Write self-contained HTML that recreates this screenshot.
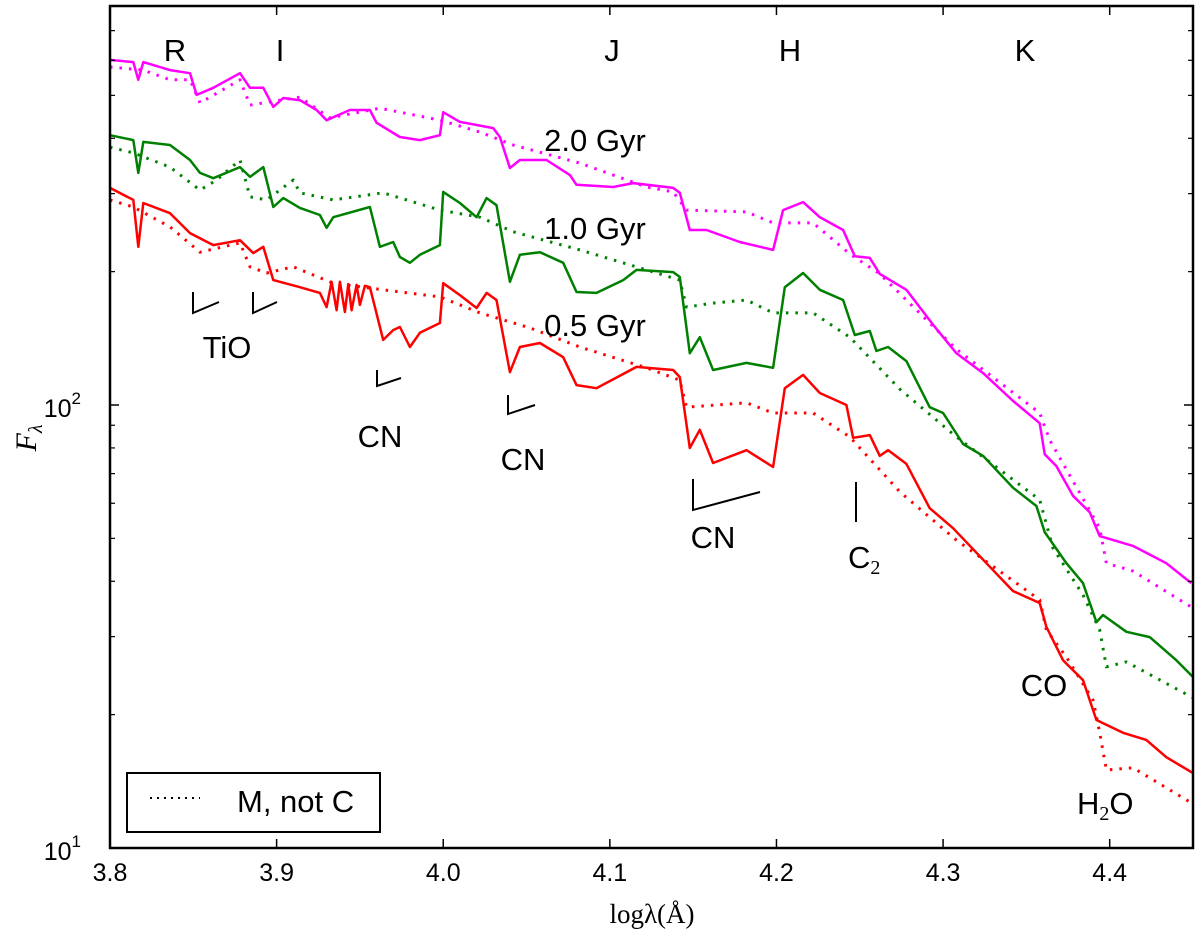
<!DOCTYPE html>
<html><head><meta charset="utf-8"><style>
html,body{margin:0;padding:0;background:#fff;}
svg{display:block;font-family:"Liberation Sans",sans-serif;}
</style></head><body>
<svg id="chart" width="1200" height="940" viewBox="0 0 1200 940" xmlns="http://www.w3.org/2000/svg">
<g id="series"></g>
<g id="axes"></g>
<g id="annot" font-size="31" fill="#000">
  <text x="175" y="61" text-anchor="middle">R</text>
  <text x="280" y="61" text-anchor="middle">I</text>
  <text x="612" y="61" text-anchor="middle">J</text>
  <text x="790" y="61" text-anchor="middle">H</text>
  <text x="1025" y="61" text-anchor="middle">K</text>
  <text x="595" y="151" text-anchor="middle">2.0 Gyr</text>
  <text x="595" y="239" text-anchor="middle">1.0 Gyr</text>
  <text x="595" y="336" text-anchor="middle">0.5 Gyr</text>
  <g stroke="#000" stroke-width="2" fill="none">
    <polyline points="193,292 193,313 219,302"/>
    <polyline points="253,292 253,313 277,302"/>
    <polyline points="377,370 377,386 401,378"/>
    <polyline points="508,395 508,414 535,405"/>
    <polyline points="693,479 693,510 760,492"/>
    <line x1="856" y1="482" x2="856" y2="522"/>
  </g>
  <text x="227" y="358" text-anchor="middle">TiO</text>
  <text x="380" y="447" text-anchor="middle">CN</text>
  <text x="523" y="470" text-anchor="middle">CN</text>
  <text x="713" y="548" text-anchor="middle">CN</text>
  <text x="848" y="568">C<tspan font-family="Liberation Serif" font-size="20" dy="6">2</tspan></text>
  <text x="1044" y="696" text-anchor="middle">CO</text>
  <text x="1077" y="814">H<tspan font-family="Liberation Serif" font-size="20" dy="6">2</tspan><tspan dy="-6">O</tspan></text>
</g>
<g>
  <rect x="127" y="773" width="253" height="59" fill="#fff" stroke="#000" stroke-width="2"/>
  <line x1="150" y1="798" x2="200" y2="798" stroke="#000" stroke-width="2" stroke-dasharray="2,5"/>
  <text x="237" y="812" font-size="31">M, not C</text>
</g>
</svg>
<script>
const xTicks = [3.8, 3.9, 4.0, 4.1, 4.2, 4.3, 4.4];
const xTickLabels = ["3.8", "3.9", "4.0", "4.1", "4.2", "4.3", "4.4"];
const yMajor = [1, 2];
const yMinorVals = [20,30,40,50,60,70,80,90,200,300,400,500,600,700];

const magentaX = [3.800,3.814,3.817,3.820,3.836,3.848,3.852,3.862,3.878,3.884,3.892,3.898,3.904,3.914,3.924,3.930,3.944,3.956,3.960,3.974,3.986,3.998,4.000,4.010,4.030,4.034,4.040,4.046,4.062,4.076,4.080,4.102,4.114,4.138,4.142,4.148,4.158,4.178,4.198,4.204,4.216,4.226,4.240,4.247,4.256,4.262,4.278,4.294,4.308,4.324,4.342,4.358,4.361,4.368,4.378,4.388,4.394,4.414,4.434,4.449];
const magentaLogF = [2.779,2.774,2.734,2.774,2.756,2.749,2.700,2.716,2.749,2.716,2.716,2.673,2.693,2.688,2.666,2.643,2.666,2.666,2.637,2.605,2.598,2.609,2.661,2.639,2.625,2.605,2.535,2.553,2.553,2.519,2.497,2.492,2.501,2.490,2.479,2.395,2.395,2.368,2.350,2.440,2.458,2.424,2.395,2.336,2.332,2.296,2.260,2.181,2.117,2.072,2.009,1.959,1.889,1.862,1.795,1.758,1.704,1.682,1.643,1.598];
const magentaMX = [3.800,3.820,3.836,3.848,3.854,3.878,3.884,3.902,3.914,3.932,3.962,3.982,3.998,4.022,4.042,4.082,4.122,4.138,4.146,4.182,4.198,4.222,4.244,4.262,4.308,4.358,4.364,4.394,4.398,4.414,4.449];
const magentaMLogF = [2.763,2.756,2.734,2.734,2.682,2.734,2.677,2.688,2.695,2.648,2.670,2.655,2.643,2.616,2.587,2.546,2.492,2.481,2.440,2.436,2.411,2.411,2.341,2.296,2.126,1.982,1.921,1.722,1.643,1.625,1.544];

const greenX = [3.800,3.814,3.817,3.820,3.836,3.848,3.854,3.862,3.878,3.884,3.892,3.898,3.904,3.914,3.926,3.930,3.934,3.956,3.962,3.970,3.974,3.980,3.986,3.998,4.000,4.010,4.020,4.026,4.032,4.040,4.046,4.058,4.072,4.080,4.092,4.108,4.116,4.138,4.142,4.148,4.154,4.162,4.182,4.198,4.205,4.216,4.226,4.240,4.247,4.256,4.260,4.267,4.278,4.292,4.300,4.312,4.324,4.342,4.356,4.361,4.374,4.384,4.392,4.396,4.410,4.424,4.440,4.450];
const greenLogF = [2.609,2.598,2.524,2.594,2.587,2.553,2.524,2.512,2.537,2.515,2.537,2.447,2.467,2.445,2.429,2.400,2.424,2.447,2.357,2.368,2.334,2.321,2.339,2.361,2.481,2.456,2.424,2.467,2.451,2.278,2.339,2.345,2.321,2.255,2.253,2.282,2.305,2.300,2.289,2.117,2.153,2.079,2.095,2.084,2.266,2.298,2.260,2.237,2.158,2.167,2.122,2.131,2.099,1.995,1.982,1.912,1.885,1.813,1.772,1.713,1.643,1.598,1.510,1.526,1.488,1.476,1.424,1.386];
const greenMX = [3.800,3.814,3.836,3.854,3.864,3.878,3.884,3.894,3.910,3.914,3.934,3.964,3.998,4.022,4.042,4.082,4.122,4.142,4.146,4.162,4.182,4.198,4.222,4.244,4.274,4.308,4.358,4.366,4.384,4.394,4.398,4.410,4.450];
const greenMLogF = [2.582,2.569,2.537,2.485,2.508,2.553,2.470,2.463,2.508,2.479,2.463,2.479,2.440,2.424,2.391,2.350,2.305,2.282,2.221,2.230,2.237,2.208,2.208,2.153,2.036,1.928,1.786,1.677,1.571,1.492,1.409,1.420,1.339];

const redX = [3.800,3.814,3.817,3.820,3.836,3.848,3.862,3.878,3.886,3.892,3.898,3.914,3.926,3.930,3.933,3.936,3.938,3.941,3.943,3.945,3.948,3.950,3.953,3.956,3.964,3.970,3.974,3.980,3.986,3.998,4.000,4.010,4.020,4.026,4.032,4.040,4.046,4.058,4.072,4.080,4.092,4.116,4.138,4.142,4.148,4.154,4.162,4.182,4.198,4.205,4.216,4.226,4.242,4.246,4.256,4.262,4.267,4.278,4.292,4.306,4.326,4.342,4.358,4.362,4.372,4.384,4.392,4.408,4.422,4.434,4.450];
const redLogF = [2.490,2.463,2.357,2.456,2.433,2.388,2.361,2.372,2.343,2.357,2.282,2.266,2.253,2.221,2.278,2.214,2.278,2.210,2.273,2.214,2.271,2.226,2.269,2.266,2.147,2.169,2.176,2.131,2.163,2.185,2.275,2.248,2.219,2.253,2.237,2.074,2.131,2.140,2.108,2.045,2.038,2.086,2.079,2.063,1.903,1.944,1.869,1.898,1.860,2.038,2.068,2.027,2.000,1.926,1.932,1.885,1.898,1.867,1.767,1.722,1.643,1.580,1.553,1.499,1.424,1.379,1.289,1.260,1.244,1.205,1.169];
const redMX = [3.800,3.814,3.836,3.854,3.878,3.884,3.894,3.910,3.934,3.964,3.998,4.022,4.052,4.082,4.122,4.142,4.146,4.182,4.198,4.222,4.244,4.274,4.308,4.358,4.362,4.374,4.390,4.394,4.398,4.414,4.448];
const redMLogF = [2.463,2.447,2.402,2.345,2.366,2.312,2.298,2.312,2.275,2.260,2.244,2.208,2.174,2.131,2.084,2.056,1.995,2.005,1.982,1.982,1.928,1.804,1.695,1.560,1.492,1.431,1.334,1.260,1.176,1.181,1.104];

const L = 110, R = 1193, T = 6, B = 848;
const X0 = 3.8, X1 = 4.45;
const PX_PER_DEC = 443;
function xs(v){ return L + (v - X0) / (X1 - X0) * (R - L); }
function ys(logv){ return 405 - (logv - 2) * PX_PER_DEC; }

const NS = "http://www.w3.org/2000/svg";
const sg = document.getElementById('series');
const ag = document.getElementById('axes');

function drawLine(xa, ya, color, dotted, name){
  const p = document.createElementNS(NS, 'polyline');
  p.setAttribute('points', xa.map((x,i)=>xs(x).toFixed(1)+','+ys(ya[i]).toFixed(1)).join(' '));
  p.setAttribute('fill','none');
  p.setAttribute('stroke', color);
  p.setAttribute('stroke-width', dotted ? '3' : '2.5');
  p.setAttribute('stroke-linejoin','round');
  if (dotted){ p.setAttribute('stroke-dasharray','2.5,7'); }
  
  
  sg.appendChild(p);
}
drawLine(magentaMX, magentaMLogF, '#ff00ff', true, 'line-2gyr-m-not-c');
drawLine(greenMX, greenMLogF, '#008000', true, 'line-1gyr-m-not-c');
drawLine(redMX, redMLogF, '#ff0000', true, 'line-05gyr-m-not-c');
drawLine(magentaX, magentaLogF, '#ff00ff', false, 'line-2gyr');
drawLine(greenX, greenLogF, '#008000', false, 'line-1gyr');
drawLine(redX, redLogF, '#ff0000', false, 'line-05gyr');

function mk(tag, attrs){ const e = document.createElementNS(NS, tag); for (const k in attrs) e.setAttribute(k, attrs[k]); return e; }

const frame = mk('rect', {x:L, y:T, width:R-L, height:B-T, fill:'none', stroke:'#000', 'stroke-width':'2.5'});


ag.appendChild(frame);

xTicks.forEach((t,i)=>{
  const x = xs(t);
  const t1 = mk('line', {x1:x, y1:B, x2:x, y2:B-9, stroke:'#000', 'stroke-width':'1.5'});
  
  
  ag.appendChild(t1);
  const t2 = mk('line', {x1:x, y1:T, x2:x, y2:T+9, stroke:'#000', 'stroke-width':'1.5'});
  
  
  ag.appendChild(t2);
  const lb = mk('text', {x:x, y:B+33, 'text-anchor':'middle', 'font-size':'25'});
  lb.textContent = xTickLabels[i];
  
  
  ag.appendChild(lb);
});
yMajor.forEach(e=>{
  const y = ys(e);
  [[L,L+9],[R,R-9]].forEach(([a,b])=>{
    const tk = mk('line', {x1:a, y1:y, x2:b, y2:y, stroke:'#000', 'stroke-width':'1.5'});
    
    
    ag.appendChild(tk);
  });
  const lb = mk('text', {x:L-29, y:y+12, 'text-anchor':'end', 'font-size':'25'});
  lb.textContent = '10';
  const sup = mk('tspan', {dy:'-13', 'font-size':'17'});
  sup.textContent = String(e);
  lb.appendChild(sup);
  
  
  ag.appendChild(lb);
});
yMinorVals.forEach(v=>{
  const y = ys(Math.log10(v));
  [[L,L+5],[R,R-5]].forEach(([a,b])=>{
    const tk = mk('line', {x1:a, y1:y, x2:b, y2:y, stroke:'#000', 'stroke-width':'1.2'});
    
    
    ag.appendChild(tk);
  });
});
const xl = mk('text', {x:652, y:923, 'text-anchor':'middle', 'font-size':'27', 'font-family':'Liberation Serif, serif'});
xl.textContent = 'log\u03bb(\u00c5)';


ag.appendChild(xl);
const yl = mk('text', {x:0, y:0, 'font-size':'30', 'font-style':'italic', 'font-family':'Liberation Serif, serif', transform:'translate(36,438) rotate(-90)', 'text-anchor':'middle'});
yl.textContent = 'F';
const ysub = mk('tspan', {dy:'6', 'font-size':'20'});
ysub.textContent = '\u03bb';
yl.appendChild(ysub);


ag.appendChild(yl);
</script>
</body></html>
